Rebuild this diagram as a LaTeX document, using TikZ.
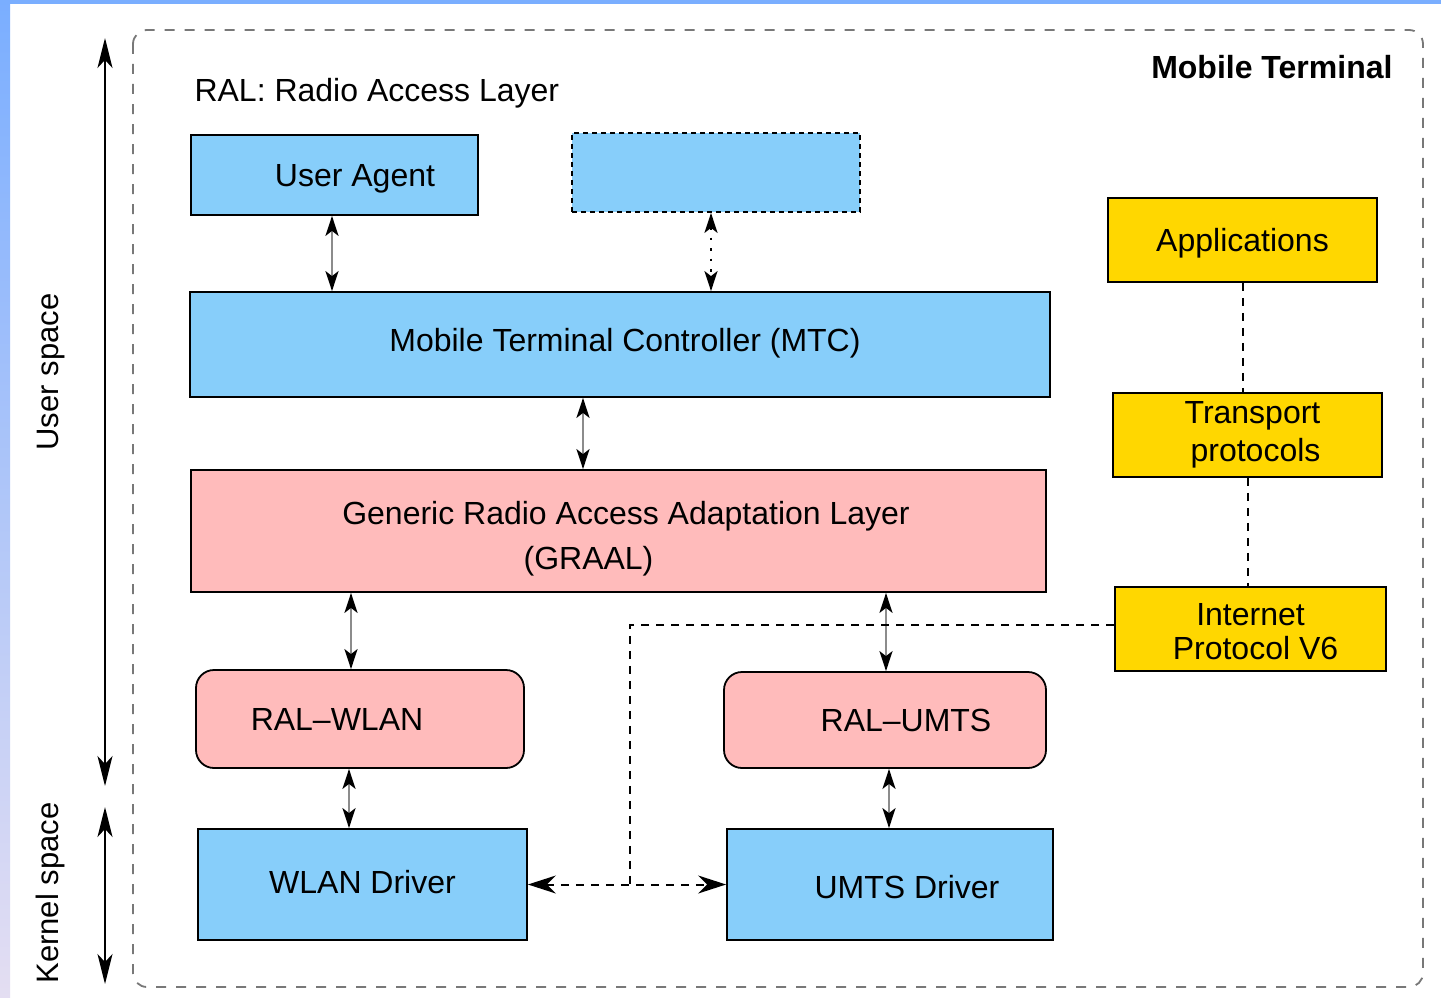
\documentclass[tikz,border=0pt]{standalone}
\usepackage{fontspec}
\setmainfont{Liberation Sans}
\usetikzlibrary{arrows.meta}
\definecolor{boxblue}{RGB}{135,206,250}
\definecolor{boxpink}{RGB}{255,187,187}
\definecolor{boxgold}{RGB}{255,215,0}
\definecolor{edgeblue}{RGB}{122,174,255}
\definecolor{edgelav}{RGB}{228,222,242}
\definecolor{framegray}{RGB}{120,120,120}
% shift a label vertically without changing its reported size
\newcommand{\vshift}[2]{\raisebox{#1}[\height][\depth]{#2}}

\begin{document}
\begin{tikzpicture}[x=1pt,y=-1pt,
  every node/.style={font=\fontsize{32}{38}\selectfont},
  blk/.style={draw=black, line width=1.8pt, inner sep=0pt},
  bluebox/.style={blk, fill=boxblue},
  pinkbox/.style={blk, fill=boxpink},
  goldbox/.style={blk, fill=boxgold, align=center},
  ralbox/.style={pinkbox, rounded corners=18pt},
  link/.style={draw=black!45, line width=2pt, {Stealth[length=20pt,width=13pt,inset=5pt,color=black]}-{Stealth[length=20pt,width=13pt,inset=5pt,color=black]}},
  dotlink/.style={link, draw=black, dash pattern=on 2.5pt off 8pt},
  ddlink/.style={draw=black, line width=2pt, dash pattern=on 8pt off 7pt,
    {Stealth[length=28pt,width=18pt,inset=9pt]}-{Stealth[length=28pt,width=18pt,inset=9pt]}},
  dline/.style={draw=black, line width=2pt, dash pattern=on 8pt off 7pt},
  span/.style={draw=black, line width=1.8pt,
    {Stealth[length=30pt,width=15pt,inset=8pt]}-{Stealth[length=30pt,width=15pt,inset=8pt]}},
  frame/.style={draw=framegray, line width=1.8pt, dash pattern=on 10pt off 10pt, rounded corners=14pt}
]
\useasboundingbox (0,0) rectangle (1441,998);

% page background with coloured edges
\fill[white] (0,0) rectangle (1441,998);
\shade[top color=edgeblue, bottom color=edgelav] (0,0) rectangle (10,998);
\fill[edgeblue] (0,0) rectangle (1441,4);

% terminal frame
\draw[frame] (133,30) rectangle (1423,987);
\node[anchor=east, font=\fontsize{32}{38}\selectfont\bfseries] (mtlabel) at (1396,67) {Mobile Terminal};
\node[anchor=west] (ralnote) at (191,93) {RAL: Radio Access Layer};

% user / kernel space spans
\coordinate (us1) at (105,38);
\coordinate (us2) at (105,786);
\coordinate (ks1) at (105,807);
\coordinate (ks2) at (105,984);
\draw[span] (us1) -- (us2);
\draw[span] (ks1) -- (ks2);
\node[rotate=90, font=\fontsize{31}{37}\selectfont] (uslabel) at (51,372) {User space};
\node[rotate=90, font=\fontsize{31}{37}\selectfont] (kslabel) at (50,893) {Kernel space};

% blocks
\node[bluebox, minimum width=287, minimum height=80] (ua) at (334.5,175) {\hspace*{41pt}\vshift{-4pt}{User Agent}};
\node[bluebox, dash pattern=on 5pt off 4pt, minimum width=288, minimum height=79] (blank) at (716,172.5) {};
\node[bluebox, minimum width=860, minimum height=105] (mtc) at (620,344.5) {\hspace*{10pt}\vshift{1pt}{Mobile Terminal Controller (MTC)}};
\node[pinkbox, align=center, minimum width=855, minimum height=122,
      font=\fontsize{32}{45}\selectfont] (graal) at (618.5,531)
      {\rule{0pt}{38pt}\hspace*{15pt}Generic Radio Access Adaptation Layer\\(GRAAL)\hspace*{60pt}\mbox{}};
\node[ralbox, minimum width=328, minimum height=98] (rwlan) at (360,719) {RAL--WLAN\hspace*{46pt}\mbox{}};
\node[ralbox, minimum width=322, minimum height=96] (rumts) at (885,720) {\hspace*{42pt}RAL--UMTS};
\node[bluebox, minimum width=329, minimum height=111] (wdrv) at (362.5,884.5) {\vshift{2pt}{WLAN Driver}};
\node[bluebox, minimum width=326, minimum height=111] (udrv) at (890,884.5) {\hspace*{34pt}\vshift{-3pt}{UMTS Driver}};

\node[goldbox, minimum width=269, minimum height=84] (app) at (1242.5,240) {\vshift{-3pt}{Applications}};
\node[goldbox, minimum width=269, minimum height=84, font=\fontsize{32}{38}\selectfont] (tp) at (1247.5,435) {\hspace*{10pt}Transport\\\hspace*{16pt}protocols};
\node[goldbox, minimum width=271, minimum height=84, font=\fontsize{32}{34}\selectfont] (ip) at (1250.5,629) {\rule{0pt}{27pt}Internet\\\hspace*{10pt}Protocol V6};

% vertical interfaces
\draw[link] ([xshift=-2.5pt]ua.south) -- ([xshift=-288pt]mtc.north);
\draw[dotlink] ([xshift=-5pt]blank.south) -- ([xshift=91pt]mtc.north);
\draw[link] ([xshift=-37pt]mtc.south) -- ([xshift=-35.5pt]graal.north);
\draw[link] ([xshift=-267.5pt]graal.south) -- ([xshift=-9pt]rwlan.north);
\draw[link] ([xshift=267.5pt]graal.south) -- ([xshift=1pt]rumts.north);
\draw[link] ([xshift=-11pt]rwlan.south) -- ([xshift=-13.5pt]wdrv.north);
\draw[link] ([xshift=4pt]rumts.south) -- ([xshift=-1pt]udrv.north);

% driver-to-driver path and IPv6 tap
\coordinate (jn) at (630,885);
\draw[ddlink] (wdrv.east) -- (udrv.west);
\draw[dline] ([yshift=4pt]ip.west) -| (jn);

% protocol stack
\draw[dline] (app.south) -- (app.south |- tp.north);
\draw[dline] (tp.south) -- (tp.south |- ip.north);
\end{tikzpicture}
\end{document}
